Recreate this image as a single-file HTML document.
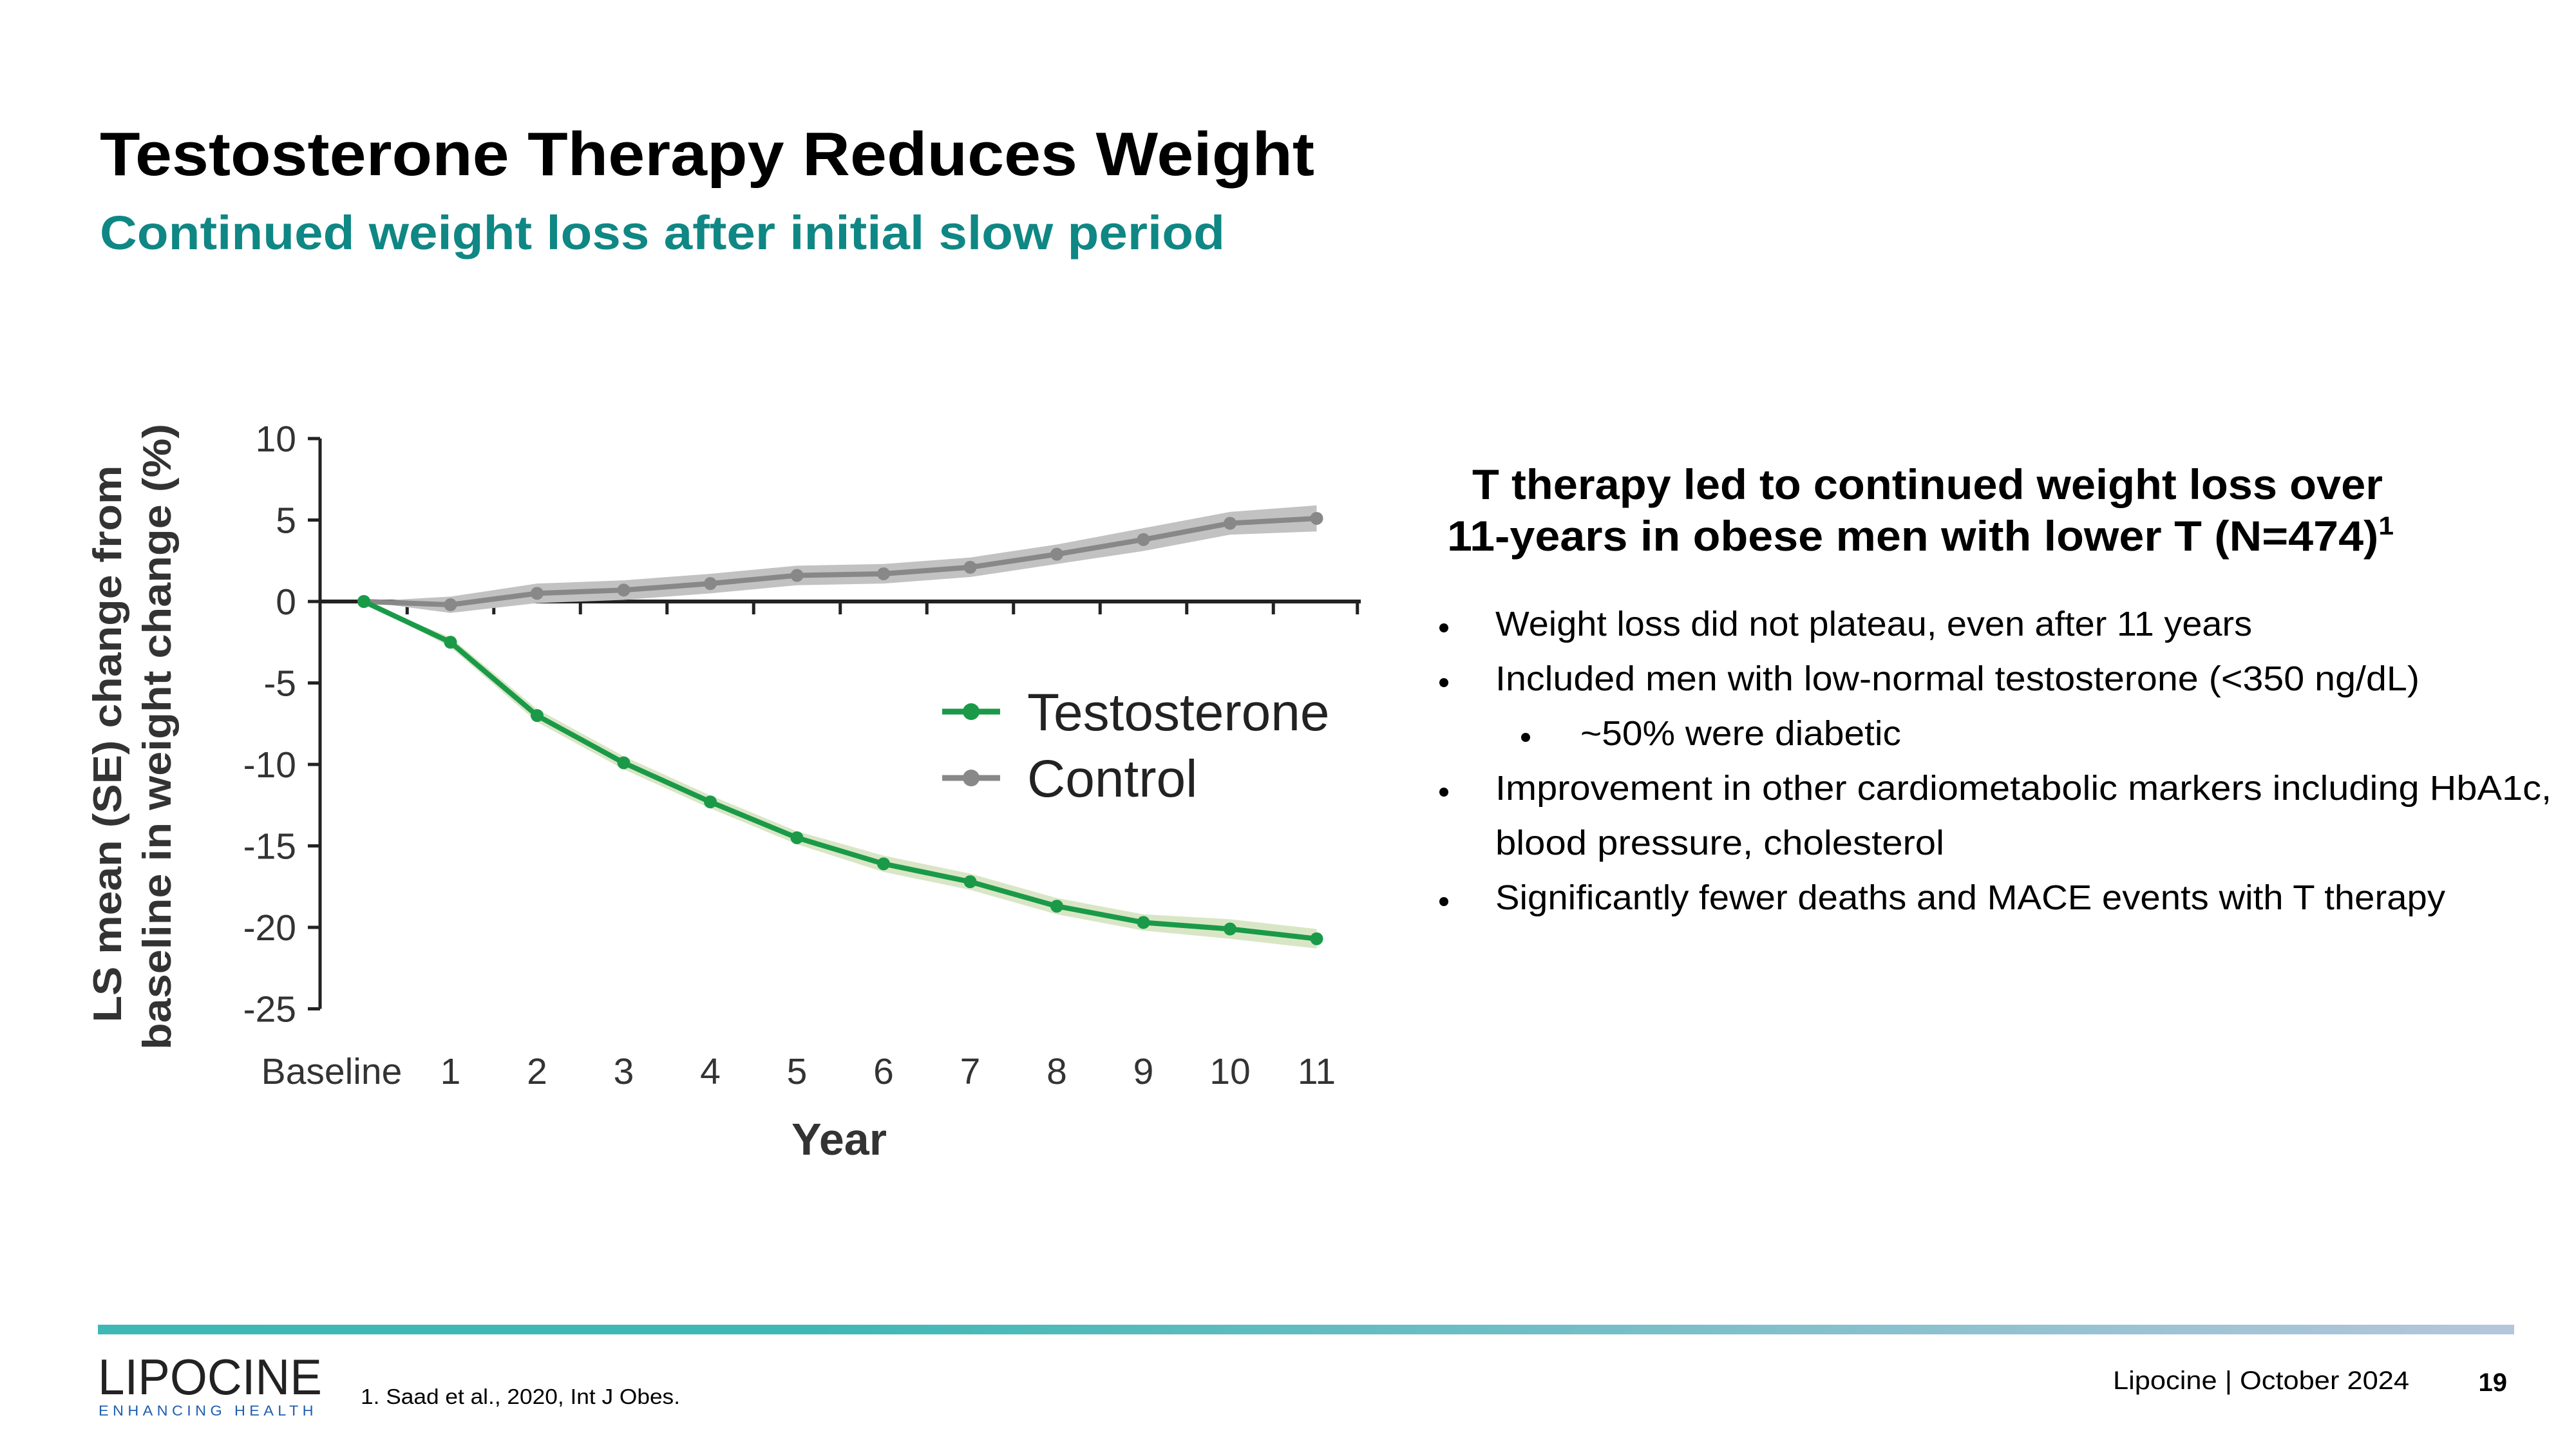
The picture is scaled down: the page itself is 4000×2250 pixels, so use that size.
<!DOCTYPE html>
<html><head><meta charset="utf-8"><style>
html,body{margin:0;padding:0;background:#fff;}
svg{display:block;font-family:"Liberation Sans",sans-serif;}
</style></head><body>
<svg id="page" width="4000" height="2250" viewBox="0 0 4000 2250" xmlns="http://www.w3.org/2000/svg">
<defs><linearGradient id="bar" x1="0" x2="1"><stop offset="0" stop-color="#3db8b5"/><stop offset="0.3" stop-color="#3fb8b5"/><stop offset="1" stop-color="#b5c6dc"/></linearGradient></defs>
<text x="155" y="272" font-size="96" font-weight="bold" fill="#000" textLength="1886" lengthAdjust="spacingAndGlyphs">Testosterone Therapy Reduces Weight</text>
<text x="155" y="387" font-size="74" font-weight="bold" fill="#0f8784" textLength="1747" lengthAdjust="spacingAndGlyphs">Continued weight loss after initial slow period</text>

<g id="chart"></g>

<text x="2993" y="775" text-anchor="middle" font-size="66" font-weight="bold" textLength="1414" lengthAdjust="spacingAndGlyphs">T therapy led to continued weight loss over</text>
<text x="2982" y="855" text-anchor="middle" font-size="66" font-weight="bold" textLength="1470" lengthAdjust="spacingAndGlyphs">11-years in obese men with lower T (N=474)<tspan font-size="40" dy="-25">1</tspan></text>
<g font-size="54" fill="#000">
<circle cx="2242" cy="975" r="7"/><text x="2322" y="987" textLength="1175" lengthAdjust="spacingAndGlyphs">Weight loss did not plateau, even after 11 years</text>
<circle cx="2242" cy="1060" r="7"/><text x="2322" y="1072" textLength="1435" lengthAdjust="spacingAndGlyphs">Included men with low-normal testosterone (&lt;350 ng/dL)</text>
<circle cx="2369" cy="1145" r="7"/><text x="2454" y="1157" textLength="498" lengthAdjust="spacingAndGlyphs">~50% were diabetic</text>
<circle cx="2242" cy="1230" r="7"/><text x="2322" y="1242" textLength="1640" lengthAdjust="spacingAndGlyphs">Improvement in other cardiometabolic markers including HbA1c,</text>
<text x="2322" y="1327" textLength="697" lengthAdjust="spacingAndGlyphs">blood pressure, cholesterol</text>
<circle cx="2242" cy="1400" r="7"/><text x="2322" y="1412" textLength="1475" lengthAdjust="spacingAndGlyphs">Significantly fewer deaths and MACE events with T therapy</text>
</g>

<rect x="152" y="2057" width="3752" height="15" fill="url(#bar)"/>
<text x="152" y="2165" font-size="78" fill="#222" textLength="348" lengthAdjust="spacingAndGlyphs" font-weight="300">LIPOCINE</text>
<text x="153" y="2198" font-size="22" fill="#1f5fb0" textLength="340" lengthAdjust="spacingAndGlyphs" letter-spacing="6">ENHANCING HEALTH</text>
<text x="560" y="2180" font-size="33" fill="#000" textLength="496" lengthAdjust="spacingAndGlyphs">1. Saad et al., 2020, Int J Obes.</text>
<text x="3741" y="2157" text-anchor="end" font-size="40" fill="#000" textLength="460" lengthAdjust="spacingAndGlyphs">Lipocine | October 2024</text>
<text x="3893" y="2160" text-anchor="end" font-size="40" font-weight="bold" fill="#000">19</text>
</svg>
<script>
const categories = ["Baseline","1","2","3","4","5","6","7","8","9","10","11"];
const testosterone = [0,-2.5,-7,-9.9,-12.3,-14.5,-16.1,-17.2,-18.7,-19.7,-20.1,-20.7];
const control = [0,-0.2,0.5,0.7,1.1,1.6,1.7,2.1,2.9,3.8,4.8,5.1];
const testosteroneSE = [0,0.3,0.4,0.4,0.4,0.4,0.5,0.5,0.5,0.5,0.6,0.6];
const controlSE = [0,0.5,0.6,0.6,0.6,0.6,0.6,0.6,0.6,0.7,0.7,0.8];
const yTicks = [10,5,0,-5,-10,-15,-20,-25];

const NS="http://www.w3.org/2000/svg";
const g=document.getElementById('chart');
const X=i=>565+i*134.5;
const Y=v=>934-v*25.3;
function mk(t,a){const e=document.createElementNS(NS,t);for(const k in a)e.setAttribute(k,a[k]);g.appendChild(e);return e;}
// y axis
let e=mk('line',{x1:497,y1:Y(10),x2:497,y2:Y(-25),stroke:'#222','stroke-width':5});


yTicks.forEach(v=>{
  let t=mk('line',{x1:478,x2:497,y1:Y(v),y2:Y(v),stroke:'#222','stroke-width':5});
  
  
  let l=mk('text',{x:460,y:Y(v)+20,'text-anchor':'end','font-size':57,fill:'#333'});
  l.textContent=v;
  
  
});
// zero line
e=mk('line',{x1:497,y1:Y(0),x2:2113,y2:Y(0),stroke:'#222','stroke-width':6});


for(let i=0;i<categories.length;i++){
  const x=X(i+0.5)+(i==categories.length-1?-4:0);
  let t=mk('line',{x1:x,x2:x,y1:Y(0),y2:Y(0)+20,stroke:'#222','stroke-width':5});
  
  
}
categories.forEach((c,i)=>{
  let l=mk('text',{x:X(i),y:1683,'text-anchor':'middle','font-size':57,fill:'#333'});
  if(i==0){l.setAttribute('x',X(0)-50);}
  l.textContent=c;
  
  
});
e=mk('text',{x:1303,y:1793,'text-anchor':'middle','font-size':70,'font-weight':'bold',fill:'#333'});
e.textContent='Year';


e=mk('text',{x:0,y:0,'text-anchor':'middle','font-size':62,'font-weight':'bold',fill:'#333',transform:'translate(188,1155) rotate(-90)',textLength:865,lengthAdjust:'spacingAndGlyphs'});
e.textContent='LS mean (SE) change from';


e=mk('text',{x:0,y:0,'text-anchor':'middle','font-size':62,'font-weight':'bold',fill:'#333',transform:'translate(265,1144) rotate(-90)',textLength:972,lengthAdjust:'spacingAndGlyphs'});
e.textContent='baseline in weight change (%)';



function band(vals,se,fill,name){
  let up=vals.map((v,i)=>X(i)+','+Y(v+se[i]));
  let dn=vals.map((v,i)=>X(i)+','+Y(v-se[i])).reverse();
  let p=mk('polygon',{points:up.concat(dn).join(' '),fill:fill});
  
  
}
function series(vals,color,name){
  let p=mk('polyline',{points:vals.map((v,i)=>X(i)+','+Y(v)).join(' '),fill:'none',stroke:color,'stroke-width':8,'stroke-linejoin':'round'});
  
  
  vals.forEach((v,i)=>{
    let c=mk('circle',{cx:X(i),cy:Y(v),r:10,fill:color});
    
    
  });
}
band(control,controlSE,'#c2c2c2','control-se-band');
band(testosterone,testosteroneSE,'#d9e6c6','testosterone-se-band');
series(control,'#888888','control');
series(testosterone,'#1a9a48','testosterone');

// legend
[['Testosterone','#1a9a48',1105],['Control','#888888',1208]].forEach(([n,c,y])=>{
  let l=mk('line',{x1:1463,x2:1553,y1:y,y2:y,stroke:c,'stroke-width':9});
  
  
  let d=mk('circle',{cx:1508,cy:y,r:13,fill:c});
  
  
  let t=mk('text',{x:1595,y:y+29,'font-size':82,fill:'#222'});
  t.textContent=n;
  
  
});
</script>
</body></html>
